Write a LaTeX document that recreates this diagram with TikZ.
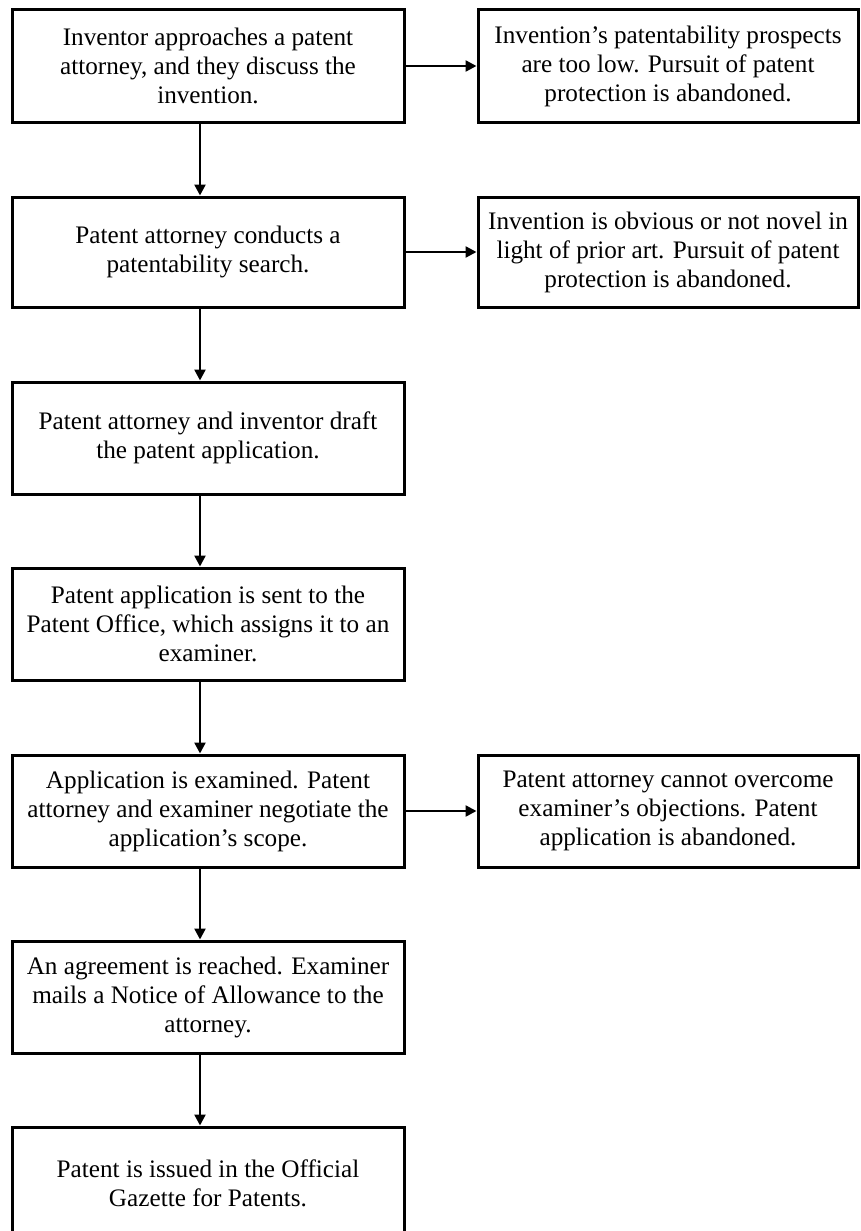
\documentclass[tikz,border=0pt]{standalone}
\usepackage{fontspec}
\setmainfont{Liberation Serif}
\usetikzlibrary{arrows.meta}
\tikzset{
  box/.style={draw=black, line width=3pt, inner sep=0pt, align=center,
    font=\fontsize{25.2}{29}\selectfont},
  lbox/.style={box, minimum width=392pt},
  rbox/.style={box, minimum width=380pt},
  arr/.style={draw=black, line width=2.4pt, -{Triangle[length=11pt,width=11pt]}}
}
\begin{document}
\begin{tikzpicture}[x=1pt,y=1pt]
\useasboundingbox (0,0) rectangle (860,-1231);
\coordinate (ax) at (200,0);
% left column
\node[lbox, minimum height=112pt] (b1) at (208,-66) {Inventor approaches a patent\\attorney, and they discuss the\\invention.};
\node[lbox, minimum height=110pt] (b2) at (208,-252) {Patent attorney conducts a\\patentability search.};
\node[lbox, minimum height=112pt] (b3) at (208,-438) {Patent attorney and inventor draft\\the patent application.};
\node[lbox, minimum height=112pt] (b4) at (208,-624) {Patent application is sent to the\\Patent Office, which assigns it to an\\examiner.};
\node[lbox, minimum height=112pt] (b5) at (208,-811) {Application is examined. Patent\\attorney and examiner negotiate the\\application’s scope.};
\node[lbox, minimum height=112pt] (b6) at (208,-997) {An agreement is reached. Examiner\\mails a Notice of Allowance to the\\attorney.};
\node[lbox, minimum height=112pt] (b7) at (208,-1183) {Patent is issued in the Official\\Gazette for Patents.};
% right column
\node[rbox, minimum height=112pt] (r1) at (668,-66) {Invention’s patentability prospects\\are too low. Pursuit of patent\\protection is abandoned.};
\node[rbox, minimum height=110pt] (r2) at (668,-252) {Invention is obvious or not novel in\\light of prior art. Pursuit of patent\\protection is abandoned.};
\node[rbox, minimum height=112pt] (r5) at (668,-811) {Patent attorney cannot overcome\\examiner’s objections. Patent\\application is abandoned.};
% vertical connectors
\draw[arr] (b1.south -| ax) -- (b2.north -| ax);
\draw[arr] (b2.south -| ax) -- (b3.north -| ax);
\draw[arr] (b3.south -| ax) -- (b4.north -| ax);
\draw[arr] (b4.south -| ax) -- (b5.north -| ax);
\draw[arr] (b5.south -| ax) -- (b6.north -| ax);
\draw[arr] (b6.south -| ax) -- (b7.north -| ax);
% horizontal connectors
\draw[arr] (b1.east) -- (r1.west);
\draw[arr] (b2.east) -- (r2.west);
\draw[arr] (b5.east) -- (r5.west);
\end{tikzpicture}
\end{document}
